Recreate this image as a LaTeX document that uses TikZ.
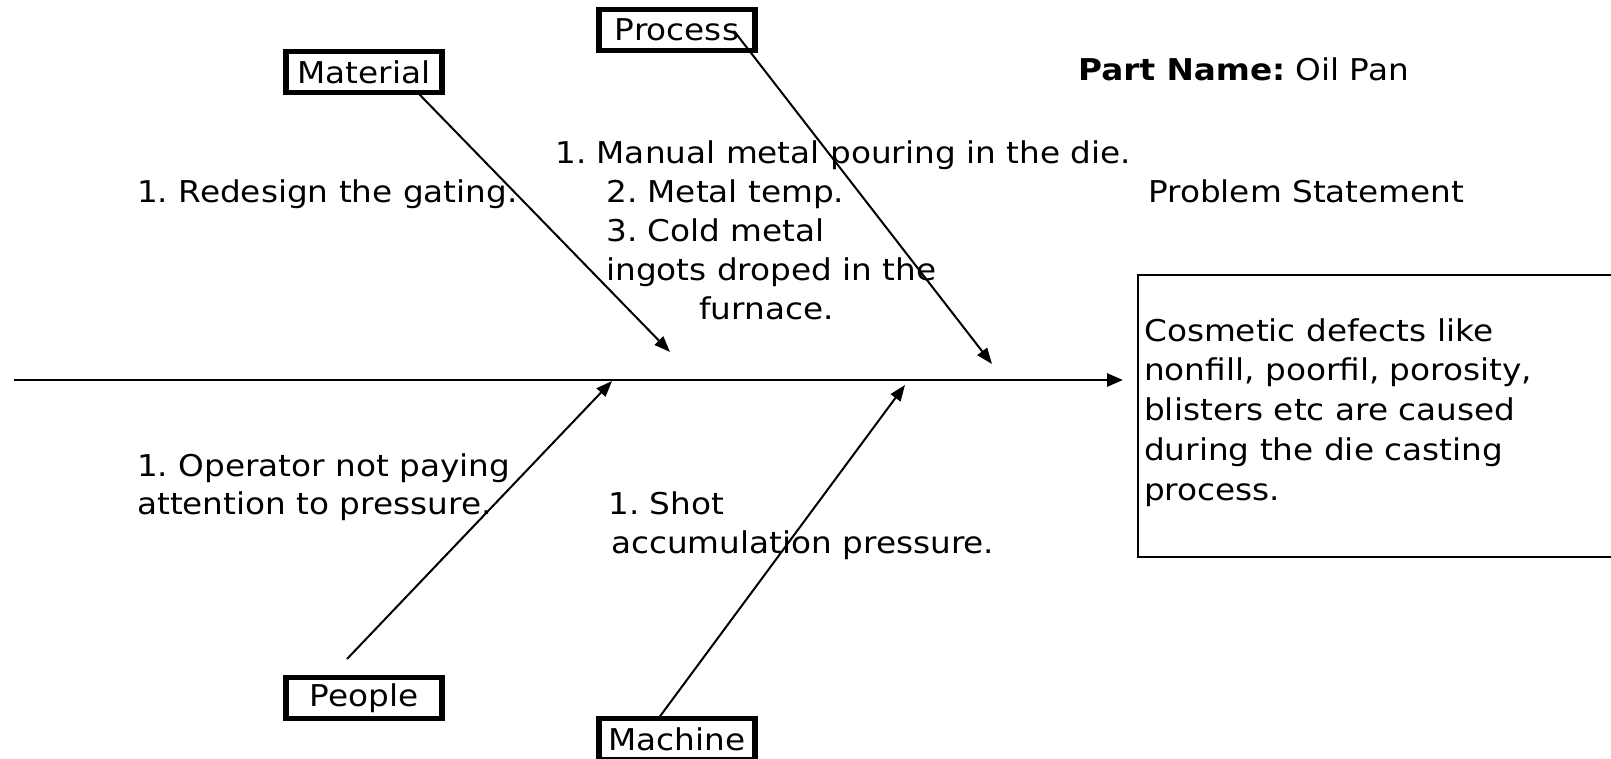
\documentclass[tikz,border=0pt]{standalone}
\usepackage{fontspec}
\setmainfont[FakeStretch=1.09]{DejaVu Sans}
\usetikzlibrary{arrows.meta}
\frenchspacing
\begin{document}
\begin{tikzpicture}[x=1pt,y=-1pt,
  every node/.style={font=\fontsize{30}{40}\selectfont},
  catbox/.style={draw, line width=5.5pt, minimum width=156, minimum height=41, inner sep=0pt},
  txt/.style={anchor=base west, inner sep=0pt},
  bone/.style={line width=2pt, -{Triangle[length=16pt,width=12pt]}},
  spine/.style={line width=2.5pt, -{Triangle[length=16pt,width=13pt]}}]
\useasboundingbox (0,0) rectangle (1611,758);
% category boxes
\node[catbox] (material) at (364,72) {Material};
\node[catbox] (process) at (677,30) {Process};
\node[catbox] (people) at (364,698) {People};
\node[catbox] (machine) at (677,739) {Machine};
% spine
\coordinate (tail) at (14,380);
\coordinate (head) at (1123,380);
\draw[spine] (tail) -- (head);
% bone coordinates
\coordinate (matS) at (419,94);
\coordinate (matT) at (670,352);
\coordinate (proS) at (734,31);
\coordinate (proT) at (992,364);
\coordinate (peoS) at (347,659);
\coordinate (peoT) at (612,381);
\coordinate (macS) at (658,719);
\coordinate (macT) at (905,385);
\draw[bone] (matS) -- (matT);
\draw[bone] (proS) -- (proT);
\draw[bone] (peoS) -- (peoT);
\draw[bone] (macS) -- (macT);
% texts
\node[txt] (pn) at (1078,80) {\textbf{Part Name:} Oil Pan};
\node[txt] (ps) at (1148,202) {Problem Statement};
\node[txt] (mt) at (137,202) {1. Redesign the gating.};
\node[txt] (p1) at (555,163) {1. Manual metal pouring in the die.};
\node[txt] (p2) at (606,202) {2. Metal temp.};
\node[txt] (p3) at (606,241) {3. Cold metal};
\node[txt] (p4) at (606,280) {ingots droped in the};
\node[txt] (p5) at (699,319) {furnace.};
\node[txt] (o1) at (137,476) {1. Operator not paying};
\node[txt] (o2) at (137,514) {attention to pressure.};
\node[txt] (m1) at (608,514) {1. Shot};
\node[txt] (m2) at (611,553) {accumulation pressure.};
% problem box
\draw[line width=1.5pt] (1640,275) -- (1138,275) -- (1138,557) -- (1640,557);
\node[txt] (pb1) at (1144,341) {Cosmetic defects like};
\node[txt] (pb2) at (1144,380) {nonfill, poorfil, porosity,};
\node[txt] (pb3) at (1144,420) {blisters etc are caused};
\node[txt] (pb4) at (1144,460) {during the die casting};
\node[txt] (pb5) at (1144,500) {process.};
\end{tikzpicture}
\end{document}
